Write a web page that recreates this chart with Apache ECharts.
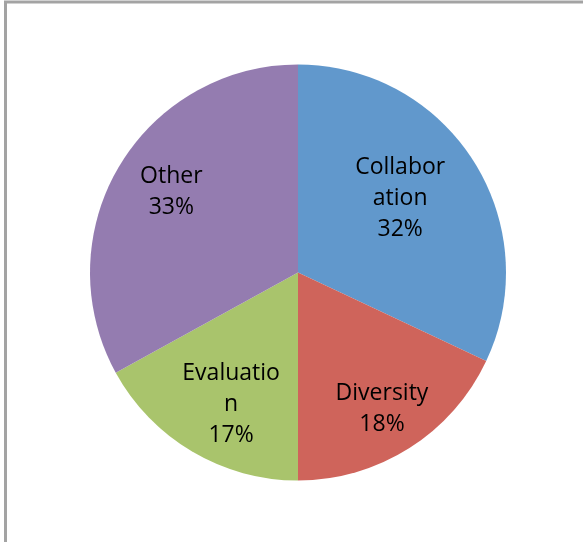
<!DOCTYPE html>
<html>
<head>
<meta charset="utf-8">
<script src="https://cdn.jsdelivr.net/npm/echarts@6/dist/echarts.min.js"></script>
<style>
  html, body { margin: 0; padding: 0; background: #fff; }
  #chart { width: 583px; height: 542px; }
</style>
</head>
<body>
<div id="chart"></div>
<script>
// Share of topics
const categories = ['Collaboration', 'Diversity', 'Evaluation', 'Other'];
const shares = [32, 18, 17, 33];
const sliceColors = ['#6198cc', '#cf645b', '#a9c46c', '#947cb0'];

// nudges for each label: [dx, dy] in pixels
const labelNudge = [[-27, 8], [2, 7], [11, 0], [5, -3]];

const chart = echarts.init(document.getElementById('chart'));

chart.setOption({
  animation: false,
  graphic: [{
    type: 'rect',
    shape: { x: 5.5, y: 2, width: 700, height: 700 },
    style: { fill: 'none', stroke: '#a3a3a3', lineWidth: 3 },
    silent: true
  }],
  series: [
    {
      // colored slices
      type: 'pie',
      center: [298, 272.5],
      radius: [0, 208],
      startAngle: 90,
      clockwise: true,
      label: { show: false },
      labelLine: { show: false },
      itemStyle: { borderWidth: 0 },
      data: categories.map((c, i) => ({
        name: c, value: shares[i], itemStyle: { color: sliceColors[i] }
      }))
    },
    {
      // transparent ring that carries the labels
      type: 'pie',
      center: [298, 272.5],
      radius: [92, 208],
      startAngle: 90,
      clockwise: true,
      silent: true,
      labelLine: { show: false },
      itemStyle: { color: 'rgba(0,0,0,0)', borderWidth: 0 },
      label: {
        show: true,
        position: 'inside',
        width: 100,
        overflow: 'breakAll',
        fontFamily: 'Open Sans',
        fontSize: 23,
        lineHeight: 31,
        color: '#000',
        formatter: p => p.name + '\n' + Math.round(p.percent) + '%'
      },
      labelLayout: p => ({ dx: labelNudge[p.dataIndex][0], dy: labelNudge[p.dataIndex][1] }),
      data: categories.map((c, i) => ({ name: c, value: shares[i] }))
    }
  ]
});
</script>
</body>
</html>
